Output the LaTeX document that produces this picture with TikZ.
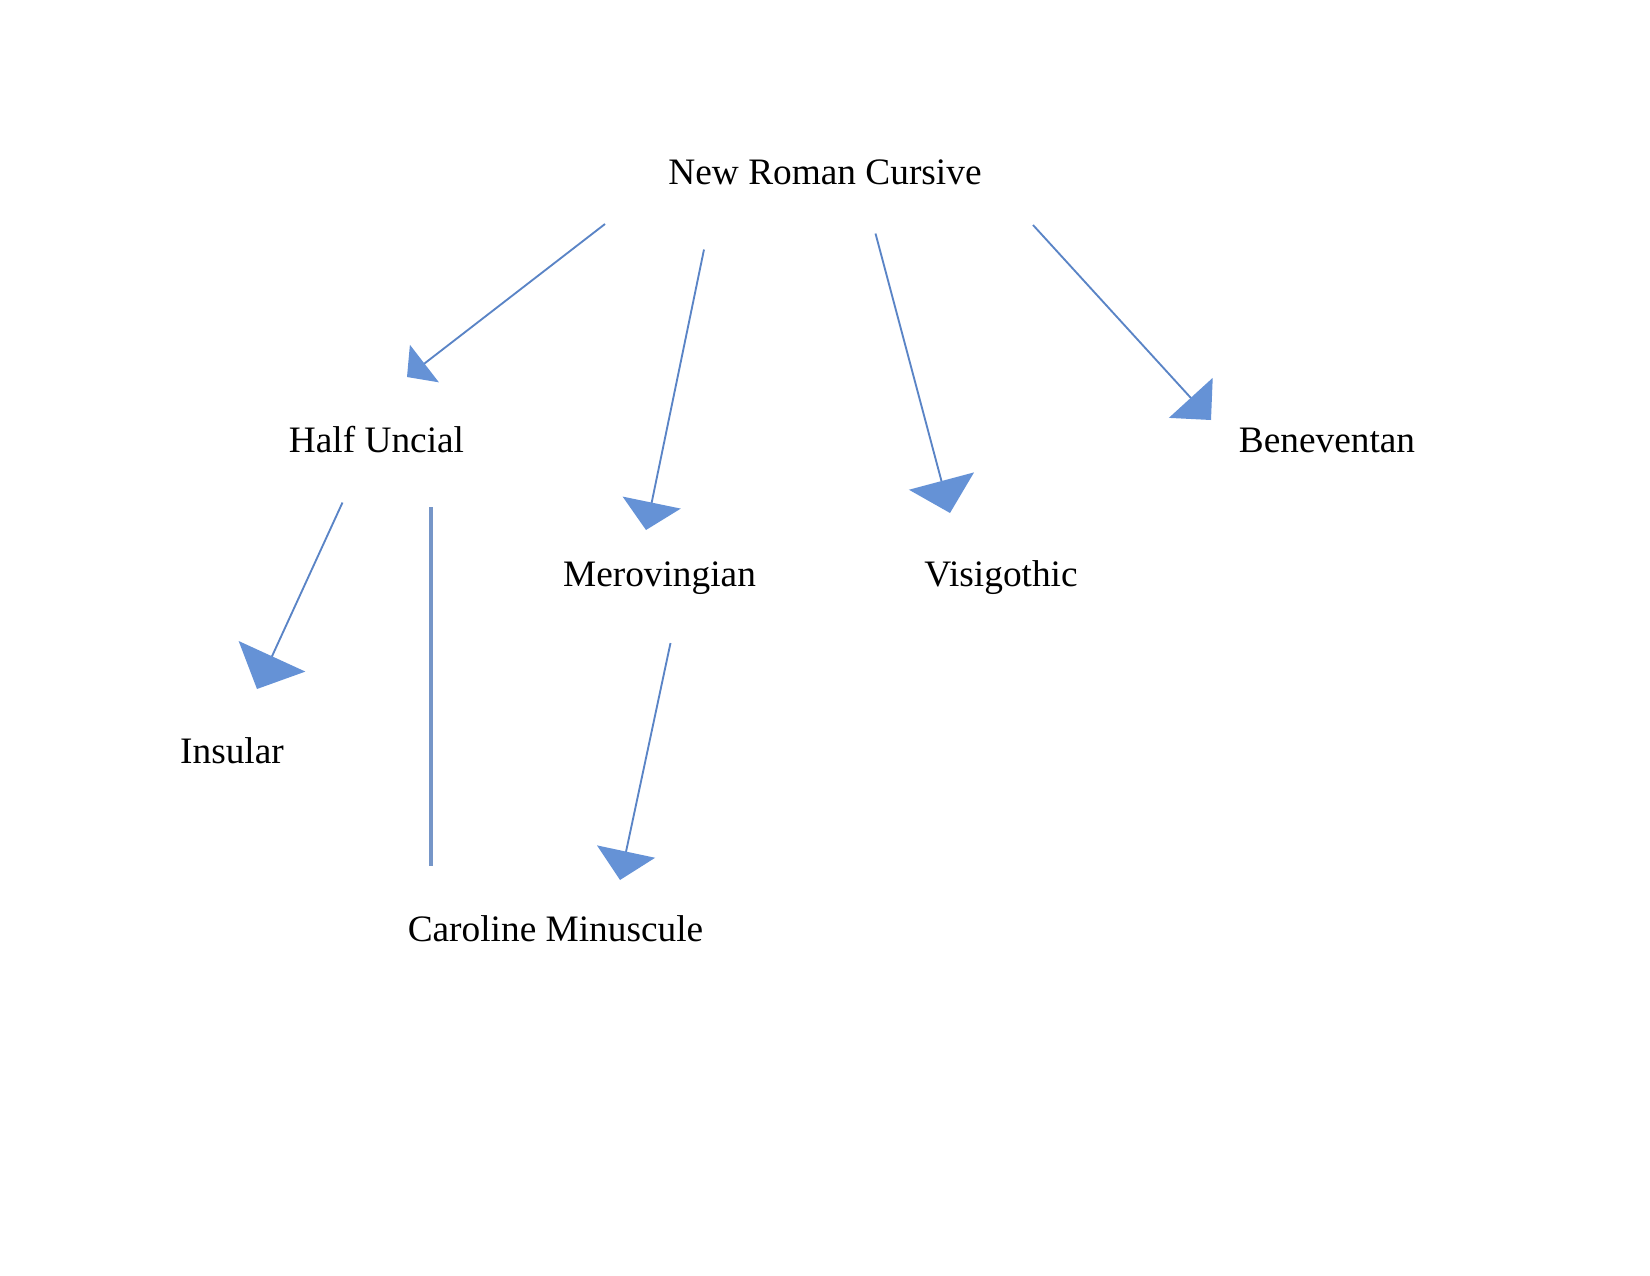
\documentclass[tikz,border=0pt]{standalone}
\usepackage{fontspec}
\setmainfont{Liberation Serif}
\usetikzlibrary{arrows.meta}

\definecolor{linkblue}{RGB}{90,132,198}
\definecolor{tipblue}{RGB}{101,146,214}
\definecolor{barblue}{RGB}{118,150,200}

\begin{document}
\begin{tikzpicture}[x=0.75pt,y=0.75pt,yscale=-1,xscale=1,
  script/.style={anchor=base,inner sep=0.75pt,font=\fontsize{28}{34}\selectfont},
  link/.style 2 args={draw=linkblue,line width=1.4pt,-{Triangle[width=#1,length=#2,fill=tipblue,color=tipblue]}},
  bar/.style={draw=barblue,line width=3pt}]
%set diagram to the whole page
\useasboundingbox (0,0) rectangle (1650,1275);

% Text Node
\node [script] (nrc) at (825,184.5) {New Roman Cursive};
% Text Node
\node [script] (hu) at (376.5,452) {Half Uncial};
% Text Node
\node [script] (bene) at (1327,452) {Beneventan};
% Text Node
\node [script] (mero) at (659.5,586) {Merovingian};
% Text Node
\node [script] (visi) at (1001,586) {Visigothic};
% Text Node
\node [script] (ins) at (232,763.5) {Insular};
% Text Node
\node [script] (car) at (555.5,941) {Caroline Minuscule};

%Line ends
\coordinate (nrc-hu) at (605,224);
\coordinate (hu-tip) at (407,377);
\coordinate (nrc-mero) at (704,249.5);
\coordinate (mero-tip) at (646,530);
\coordinate (nrc-visi) at (875.5,233.5);
\coordinate (visi-tip) at (950,513);
\coordinate (nrc-bene) at (1033,225);
\coordinate (bene-tip) at (1211,420);
\coordinate (hu-ins) at (342.5,502.5);
\coordinate (ins-tip) at (257,689);
\coordinate (mero-car) at (670.5,643);
\coordinate (car-tip) at (620,880);
\coordinate (hu-car) at (430.5,507);
\coordinate (car-bar) at (430.5,866);

%Straight Lines
\draw [link={35.3pt}{16.5pt}] (nrc-hu) -- (hu-tip);
%Straight Lines
\draw [link={44.3pt}{21pt}] (nrc-mero) -- (mero-tip);
%Straight Lines
\draw [link={50.3pt}{24.8pt}] (nrc-visi) -- (visi-tip);
%Straight Lines
\draw [link={44.3pt}{22.5pt}] (nrc-bene) -- (bene-tip);
%Straight Lines
\draw [link={54.8pt}{27pt}] (hu-ins) -- (ins-tip);
%Straight Lines
\draw [link={44.3pt}{21.8pt}] (mero-car) -- (car-tip);
%Straight Lines
\draw [bar] (hu-car) -- (car-bar);

\end{tikzpicture}
\end{document}
